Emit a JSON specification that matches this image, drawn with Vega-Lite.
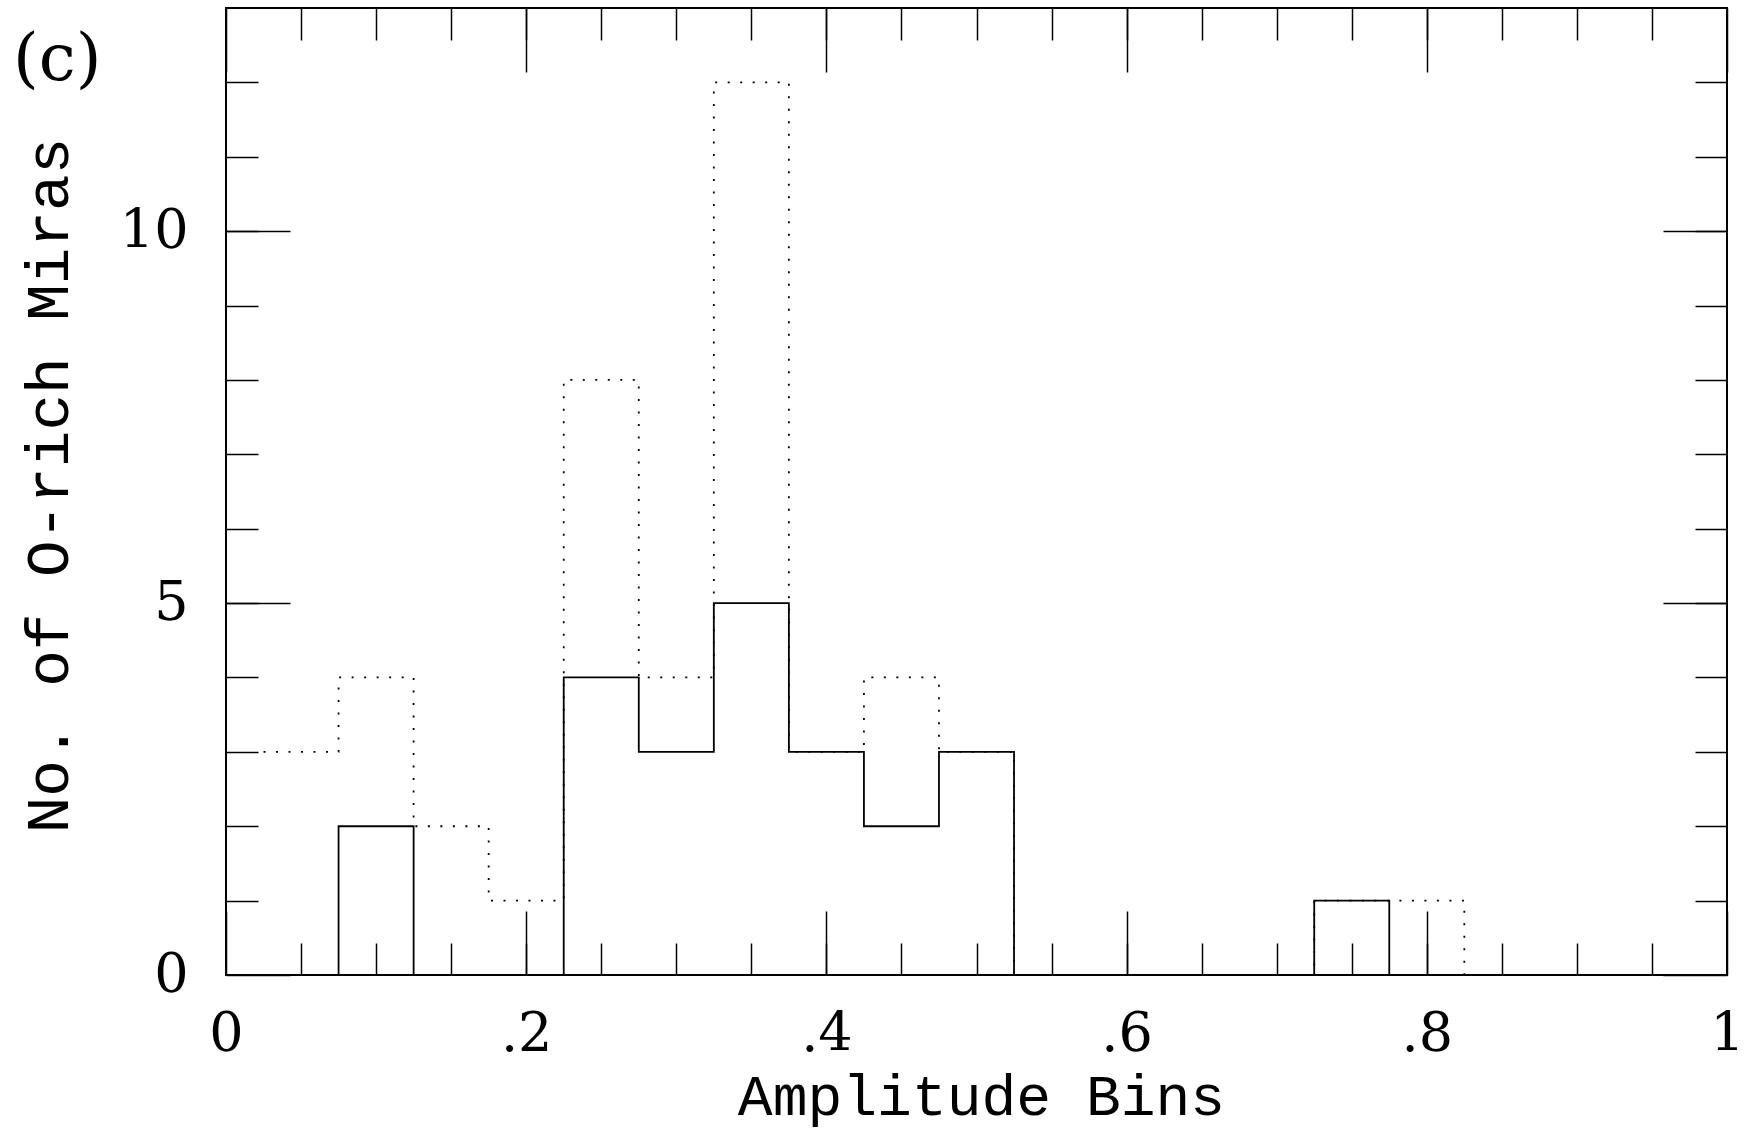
{
  "$schema": "https://vega.github.io/schema/vega-lite/v6.json",
  "width": 1501,
  "height": 967,
  "autosize": {"type": "none"},
  "padding": {"left": 226, "top": 8, "right": 17, "bottom": 159},
  "background": "white",
  "config": {
    "view": {"stroke": "black", "strokeWidth": 2},
    "axis": {"grid": false, "domain": false, "tickColor": "black", "tickWidth": 1.5, "labelColor": "black", "titleColor": "black", "labelFont": "DejaVu Serif", "titleFont": "Liberation Mono", "labelFontWeight": "normal", "titleFontWeight": "normal"}
  },
  "datasets": {
    "dotted": [
      {"edge": 0.025, "count": 3},
      {"edge": 0.075, "count": 4},
      {"edge": 0.125, "count": 2},
      {"edge": 0.175, "count": 1},
      {"edge": 0.225, "count": 8},
      {"edge": 0.275, "count": 4},
      {"edge": 0.325, "count": 12},
      {"edge": 0.375, "count": 3},
      {"edge": 0.425, "count": 4},
      {"edge": 0.475, "count": 3},
      {"edge": 0.525, "count": 0},
      {"edge": 0.575, "count": 0},
      {"edge": 0.625, "count": 0},
      {"edge": 0.675, "count": 0},
      {"edge": 0.725, "count": 1},
      {"edge": 0.775, "count": 1},
      {"edge": 0.825, "count": 0},
      {"edge": 0.875, "count": 0},
      {"edge": 0.925, "count": 0},
      {"edge": 0.975, "count": 0}
    ],
    "solid": [
      {"edge": 0.025, "count": 0},
      {"edge": 0.075, "count": 2},
      {"edge": 0.125, "count": 0},
      {"edge": 0.175, "count": 0},
      {"edge": 0.225, "count": 4},
      {"edge": 0.275, "count": 3},
      {"edge": 0.325, "count": 5},
      {"edge": 0.375, "count": 3},
      {"edge": 0.425, "count": 2},
      {"edge": 0.475, "count": 3},
      {"edge": 0.525, "count": 0},
      {"edge": 0.575, "count": 0},
      {"edge": 0.625, "count": 0},
      {"edge": 0.675, "count": 0},
      {"edge": 0.725, "count": 1},
      {"edge": 0.775, "count": 0},
      {"edge": 0.825, "count": 0},
      {"edge": 0.875, "count": 0},
      {"edge": 0.925, "count": 0},
      {"edge": 0.975, "count": 0}
    ],
    "panel": [
      {"label": "(c)"}
    ]
  },
  "layer": [
    {
      "data": {"name": "dotted"},
      "mark": {"type": "line", "interpolate": "step-after", "color": "black", "strokeWidth": 1.8, "strokeDash": [2, 10.5]},
      "encoding": {
        "x": {"field": "edge", "type": "quantitative", "scale": {"domain": [0, 1], "nice": false, "zero": false},
          "axis": {"orient": "bottom", "values": [0, 0.2, 0.4, 0.6, 0.8, 1], "ticks": false, "labelFontSize": 54, "labelBaseline": "alphabetic", "labelPadding": 75, "labelFlush": false, "labelOverlap": false,
            "labelExpr": "datum.value == 0 ? '0' : datum.value == 1 ? '1' : '.' + format(datum.value * 10, 'd')",
            "title": "Amplitude Bins", "titleFontSize": 58, "titleBaseline": "alphabetic", "titleAlign": "center", "titleX": 755, "titleY": 139}},
        "y": {"field": "count", "type": "quantitative", "scale": {"domain": [0, 13], "nice": false, "zero": true},
          "axis": {"orient": "left", "values": [0, 5, 10], "ticks": false, "labelFontSize": 54, "labelBaseline": "middle", "labelPadding": 38, "labelFlush": false, "labelOverlap": false,
            "title": "No. of O-rich Miras", "titleFontSize": 61, "titleBaseline": "alphabetic", "titleAlign": "center", "titleAngle": -90, "titleX": -159, "titleY": 477}}
      }
    },
    {
      "data": {"name": "solid"},
      "mark": {"type": "line", "interpolate": "step-after", "color": "black", "strokeWidth": 1.8},
      "encoding": {
        "x": {"field": "edge", "type": "quantitative", "axis": {"orient": "bottom", "values": [0, 0.2, 0.4, 0.6, 0.8, 1], "tickSize": -64, "labels": false, "title": null}},
        "y": {"field": "count", "type": "quantitative", "axis": {"orient": "left", "values": [0, 5, 10], "tickSize": -64, "labels": false, "title": null}}
      }
    },
    {
      "data": {"name": "solid"},
      "mark": {"type": "line", "interpolate": "step-after", "opacity": 0},
      "encoding": {
        "x": {"field": "edge", "type": "quantitative", "axis": {"orient": "bottom", "values": [0.05, 0.1, 0.15, 0.2, 0.25, 0.3, 0.35, 0.4, 0.45, 0.5, 0.55, 0.6, 0.65, 0.7, 0.75, 0.8, 0.85, 0.9, 0.95], "tickSize": -32, "labels": false, "title": null}},
        "y": {"field": "count", "type": "quantitative", "axis": {"orient": "left", "values": [1, 2, 3, 4, 5, 6, 7, 8, 9, 10, 11, 12], "tickSize": -32, "labels": false, "title": null}}
      }
    },
    {
      "data": {"name": "solid"},
      "mark": {"type": "line", "interpolate": "step-after", "opacity": 0},
      "encoding": {
        "x": {"field": "edge", "type": "quantitative", "axis": {"orient": "top", "values": [0, 0.2, 0.4, 0.6, 0.8, 1], "tickSize": -64, "labels": false, "title": null}},
        "y": {"field": "count", "type": "quantitative", "axis": {"orient": "right", "values": [0, 5, 10], "tickSize": -64, "labels": false, "title": null}}
      }
    },
    {
      "data": {"name": "solid"},
      "mark": {"type": "line", "interpolate": "step-after", "opacity": 0},
      "encoding": {
        "x": {"field": "edge", "type": "quantitative", "axis": {"orient": "top", "values": [0.05, 0.1, 0.15, 0.2, 0.25, 0.3, 0.35, 0.4, 0.45, 0.5, 0.55, 0.6, 0.65, 0.7, 0.75, 0.8, 0.85, 0.9, 0.95], "tickSize": -32, "labels": false, "title": null}},
        "y": {"field": "count", "type": "quantitative", "axis": {"orient": "right", "values": [1, 2, 3, 4, 5, 6, 7, 8, 9, 10, 11, 12], "tickSize": -32, "labels": false, "title": null}}
      }
    },
    {
      "data": {"name": "panel"},
      "mark": {"type": "text", "font": "DejaVu Serif", "fontSize": 66, "color": "black", "align": "left", "baseline": "alphabetic"},
      "encoding": {
        "text": {"field": "label"},
        "x": {"datum": -0.1419, "type": "quantitative", "axis": null},
        "y": {"datum": 12.03, "type": "quantitative", "axis": null}
      }
    }
  ],
  "resolve": {"axis": {"x": "independent", "y": "independent"}}
}
